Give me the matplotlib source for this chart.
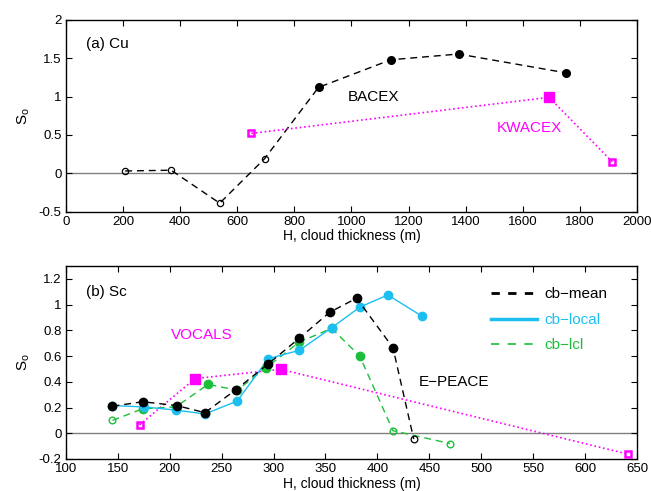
import numpy as np
import matplotlib
matplotlib.use('Agg')
import matplotlib.pyplot as plt
from matplotlib.lines import Line2D

plt.rcParams['font.family'] = ['Liberation Sans', 'DejaVu Sans']
plt.rcParams['axes.unicode_minus'] = False

# (a) Cu : BACEX dan KWACEX
bacex_h = [208, 369, 539, 696, 885, 1138, 1375, 1750]
bacex_s = [0.03, 0.04, -0.39, 0.19, 1.12, 1.48, 1.555, 1.31]
bacex_open = [True, True, True, True, False, False, False, False]

kwacex_h = [650, 1692, 1913]
kwacex_s = [0.52, 0.99, 0.15]
kwacex_open = [True, False, True]

# (b) Sc : E-PEACE (cb-mean, cb-local, cb-lcl) dan VOCALS
mean_h = [145, 174, 207, 234, 264, 295, 325, 354, 380, 415, 435]
mean_s = [0.21, 0.245, 0.215, 0.16, 0.34, 0.54, 0.74, 0.94, 1.05, 0.665, -0.045]
mean_open = [False] * 10 + [True]

local_h = [145, 175, 206, 234, 265, 295, 325, 356, 383, 410, 443]
local_s = [0.215, 0.205, 0.18, 0.15, 0.25, 0.58, 0.645, 0.82, 0.98, 1.075, 0.91]

lcl_h = [145, 174, 206, 237, 265, 293, 325, 356, 383, 415, 470]
lcl_s = [0.10, 0.19, 0.205, 0.38, 0.335, 0.51, 0.71, 0.815, 0.60, 0.02, -0.08]
lcl_open = [True] + [False] * 8 + [True, True]

vocals_h = [171, 224.5, 307, 641.6]
vocals_s = [0.065, 0.425, 0.497, -0.163]
vocals_open = [True, False, False, True]

cyan = '#1cbff0'
green = '#1dbf3a'
magenta = '#ff00ff'


def markers(ax, h, s, is_open, color, marker, ms_fill, ms_open, mew=1.0):
    h = np.array(h)
    s = np.array(s)
    op = np.array(is_open)
    ax.plot(h[~op], s[~op], linestyle='none', marker=marker, ms=ms_fill,
            color=color, mec=color, zorder=4)
    ax.plot(h[op], s[op], linestyle='none', marker=marker, ms=ms_open,
            mfc='none', mec=color, mew=mew, zorder=4)


def style(ax):
    ax.tick_params(direction='in', top=True, right=True, labelsize=9.5,
                   length=4, width=0.8, pad=3)
    for sp in ax.spines.values():
        sp.set_linewidth(1.0)
    ax.axhline(0, color='gray', lw=1.0, zorder=1)
    ax.set_xlabel('H, cloud thickness (m)', fontsize=10, labelpad=1)
    ax.set_ylabel('S$_\\mathregular{o}$', fontsize=11, labelpad=5)


fig = plt.figure(figsize=(6.51, 4.91), dpi=100)

# panel atas
ax1 = fig.add_axes([0.101, 0.569, 0.8776, 0.3905])
ax1.plot(bacex_h, bacex_s, 'k--', lw=1.0, dashes=(5, 3.5), zorder=3)
markers(ax1, bacex_h, bacex_s, bacex_open, 'k', 'o', 5.5, 4.5, 0.9)
ax1.plot(kwacex_h, kwacex_s, ':', color=magenta, lw=1.2, zorder=3)
markers(ax1, kwacex_h, kwacex_s, kwacex_open, magenta, 's', 6.5, 5, 1.8)
ax1.set_xlim(0, 2000)
ax1.set_ylim(-0.5, 2)
ax1.set_xticks(np.arange(0, 2001, 200))
ax1.set_yticks([-0.5, 0, 0.5, 1, 1.5, 2])
ax1.set_yticklabels(['-0.5', '0', '0.5', '1', '1.5', '2'])
style(ax1)
ax1.text(145, 1.68, '(a) Cu', fontsize=11, ha='center', va='center')
ax1.text(1078, 0.99, 'BACEX', fontsize=11, ha='center', va='center')
ax1.text(1624, 0.59, 'KWACEX', fontsize=11, ha='center', va='center',
         color=magenta)

# panel bawah
ax2 = fig.add_axes([0.101, 0.0652, 0.8776, 0.393])
ax2.plot(vocals_h, vocals_s, ':', color=magenta, lw=1.2, zorder=2)
markers(ax2, vocals_h, vocals_s, vocals_open, magenta, 's', 7, 5, 1.8)
ax2.plot(lcl_h, lcl_s, '--', color=green, lw=1.0, dashes=(5, 3.5), zorder=3)
markers(ax2, lcl_h, lcl_s, lcl_open, green, 'o', 6, 4.8, 1.0)
ax2.plot(local_h, local_s, '-', color=cyan, lw=1.0, zorder=3)
ax2.plot(local_h, local_s, linestyle='none', marker='o', ms=6, color=cyan,
         zorder=4)
ax2.plot(mean_h, mean_s, 'k--', lw=1.0, dashes=(5, 3.5), zorder=5)
markers(ax2, mean_h, mean_s, mean_open, 'k', 'o', 6, 4.8, 0.9)
ax2.set_xlim(100, 650)
ax2.set_ylim(-0.2, 1.3)
ax2.set_xticks(np.arange(100, 651, 50))
ax2.set_yticks(np.arange(-0.2, 1.21, 0.2))
ax2.set_yticklabels(['-0.2', '0', '0.2', '0.4', '0.6', '0.8', '1', '1.2'])
style(ax2)
ax2.text(139, 1.10, '(b) Sc', fontsize=11, ha='center', va='center')
ax2.text(231, 0.76, 'VOCALS', fontsize=11, ha='center', va='center',
         color=magenta)
ax2.text(440, 0.40, 'E\u2212PEACE', fontsize=11, ha='left', va='center')

handles = [Line2D([], [], color='k', ls='--', lw=2.0, dashes=(3, 3)),
           Line2D([], [], color=cyan, ls='-', lw=2.5),
           Line2D([], [], color=green, ls='--', lw=1.2, dashes=(5, 5))]
leg = ax2.legend(handles, ['cb\u2212mean', 'cb\u2212local', 'cb\u2212lcl'],
                 loc='upper right', bbox_to_anchor=(0.972, 0.96),
                 frameon=False, fontsize=11, handlelength=3.0,
                 handletextpad=0.5, labelspacing=0.75,
                 labelcolor=['k', cyan, green])

fig.savefig('out.png', dpi=100)
